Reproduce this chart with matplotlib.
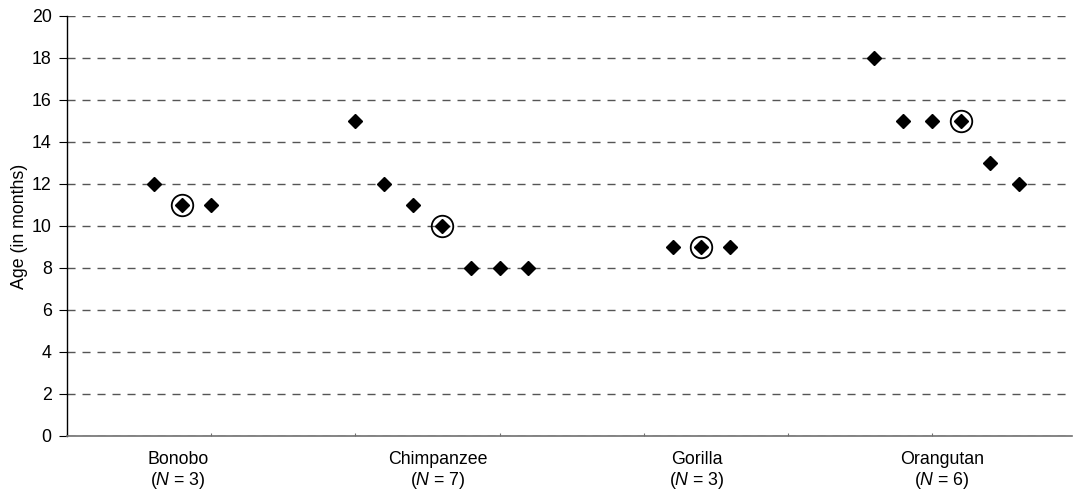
import matplotlib
matplotlib.use("Agg")
import matplotlib.pyplot as plt
import numpy as np

species = ["Bonobo", "Chimpanzee", "Gorilla", "Orangutan"]
ages = {
    "Bonobo": [12, 11, 11],
    "Chimpanzee": [15, 12, 11, 10, 8, 8, 8],
    "Gorilla": [9, 9, 9],
    "Orangutan": [18, 15, 15, 15, 13, 12],
}
median_index = {"Bonobo": 1, "Chimpanzee": 3, "Gorilla": 1, "Orangutan": 3}
y_label = "Age (in months)"

plt.rcParams["font.family"] = ["Liberation Sans", "DejaVu Sans"]
plt.rcParams["mathtext.fontset"] = "custom"
plt.rcParams["mathtext.rm"] = "Liberation Sans"
plt.rcParams["mathtext.it"] = "Liberation Sans:italic"

FS = 12.8

fig = plt.figure(figsize=(10.73, 5.0), dpi=100)
ax = fig.add_axes([67/1073, 64/500, (1072-67)/1073, 420/500])

group_start = [0, 7, 18, 25]
centers = []
labels = []
for sp, start in zip(species, group_start):
    vals = ages[sp]
    xs = np.arange(len(vals)) + start
    ax.plot(xs, vals, linestyle="none", marker="D", ms=7.6, color="black",
            mec="black", zorder=3)
    mi = median_index[sp]
    ax.plot([xs[mi]], [vals[mi]], linestyle="none", marker="o", ms=15.5,
            mfc="none", mec="black", mew=1.3, zorder=3)
    centers.append(start + (len(vals) - 1) / 2 - 0.15)
    labels.append(f"{sp}\n($\\mathit{{N}}$ = {len(vals)})")

ax.set_xlim(-3, 31.85)
ax.set_ylim(0, 20)
ax.set_yticks(np.arange(0, 21, 2))
ax.yaxis.grid(True, linestyle=(0, (5.8, 5.0)), color="#555555", linewidth=1.0)
ax.set_axisbelow(True)

ax.set_xticks(np.arange(-3, 32, 5))
ax.set_xticklabels([])
ax.tick_params(axis="x", which="major", direction="in", length=2,
               color="#707070", width=0.8)
ax.set_xticks(centers, minor=True)
ax.set_xticklabels(labels, minor=True, fontsize=FS, linespacing=1.1)
ax.tick_params(axis="x", which="minor", length=0, pad=11)

ax.tick_params(axis="y", direction="out", length=6, width=0.8, labelsize=FS,
               pad=5)
ax.set_ylabel(y_label, fontsize=FS, labelpad=3)

for s in ["top", "right"]:
    ax.spines[s].set_visible(False)
ax.spines["left"].set_color("black")
ax.spines["left"].set_linewidth(1.0)
ax.spines["bottom"].set_color("#707070")
ax.spines["bottom"].set_linewidth(1.2)

fig.savefig("out.png", dpi=100)
